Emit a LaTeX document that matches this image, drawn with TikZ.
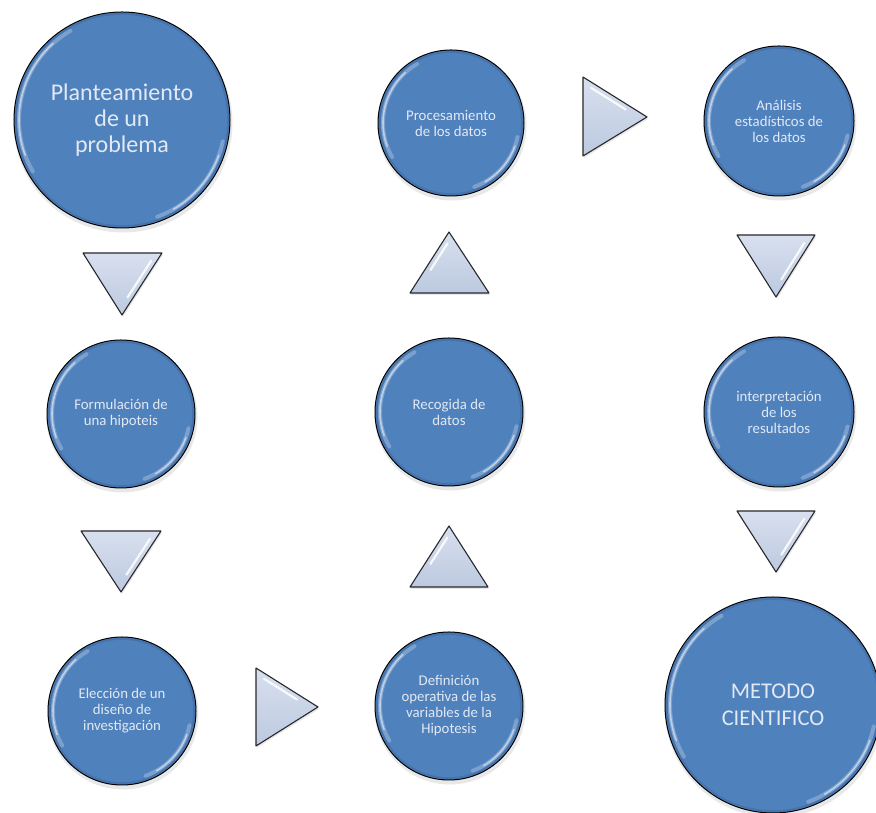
\documentclass[tikz,border=0pt]{standalone}
\usepackage{fontspec}
\setmainfont{Carlito}
\usetikzlibrary{calc}
\definecolor{bubfill}{RGB}{79,129,189}
\definecolor{bubrim}{RGB}{60,100,150}
\definecolor{bubtxt}{RGB}{226,233,244}
\definecolor{tritop}{RGB}{216,224,239}
\definecolor{tribot}{RGB}{188,201,223}
\definecolor{triline}{RGB}{40,40,45}
\tikzset{
  bubble/.style={circle, inner sep=0pt, fill=bubfill, draw=black, line width=1pt,
                 text=bubtxt, align=center},
  smalltxt/.style={font=\fontsize{14.8}{16}\selectfont},
  bigtxt/.style={font=\fontsize{24}{26}\selectfont},
  endtxt/.style={font=\fontsize{22.5}{27}\selectfont},
  shadowfill/.style={black, opacity=.09},
  gloss/.style={white, line cap=round},
  tri/.style={draw=triline, line width=1.1pt, line join=round,
              top color=tritop, bottom color=tribot},
  streak/.style={white, opacity=.85, line width=2.2pt, line cap=round},
}
% name, x, y, r, style, text
\newcommand\mkbub[6]{%
  \fill[shadowfill] (#2+1,#3-3) circle ({(#4+1.5)*1pt});
  \node[bubble, minimum size={2*#4*1pt}, #5] (#1) at (#2,#3) {#6};
  \draw[bubrim, opacity=.45, line width=2pt] (#1.center) circle ({(#4-1.8)*1pt});
  \draw[gloss, opacity=.25, line width=4pt]
    ([shift={(210:{(#4-5)*1pt})}]#1.center) arc[start angle=210, end angle=120, radius={(#4-5)*1pt}];
  \draw[gloss, opacity=.5, line width=1.6pt]
    ([shift={(200:{(#4-5)*1pt})}]#1.center) arc[start angle=200, end angle=132, radius={(#4-5)*1pt}];
  \draw[gloss, opacity=.25, line width=4pt]
    ([shift={(-70:{(#4-5)*1pt})}]#1.center) arc[start angle=-70, end angle=-12, radius={(#4-5)*1pt}];
  \draw[gloss, opacity=.5, line width=1.6pt]
    ([shift={(-60:{(#4-5)*1pt})}]#1.center) arc[start angle=-60, end angle=-20, radius={(#4-5)*1pt}];
}
% name, A, B, C  (streak along A->B)
\newcommand\mktri[6]{%
  \coordinate (#1a) at (#2);
  \coordinate (#1b) at (#3);
  \coordinate (#1c) at (#4);
  \coordinate (#1g) at (barycentric cs:#1a=1,#1b=1,#1c=1);
  \fill[shadowfill] ([shift={(1,-2)}]#1a) -- ([shift={(1,-2)}]#1b) -- ([shift={(1,-2)}]#1c) -- cycle;
  \path[tri] (#1a) -- (#1b) -- (#1c) -- cycle;
  \draw[streak, shorten <=#5, shorten >=#6] ($(#1g)!.78!(#1a)$) -- ($(#1g)!.78!(#1b)$);
}
\begin{document}
\begin{tikzpicture}[x=1pt, y=1pt]
  \useasboundingbox (0,0) rectangle (876,813);
  \fill[white] (0,0) rectangle (876,813);
  \clip (0,0) rectangle (876,813);

  \mkbub{plan}{122}{693}{108}{bigtxt}{Planteamiento\\de un\\problema}
  \mkbub{form}{121}{399}{74}{smalltxt}{Formulación de\\una hipoteis}
  \mkbub{elec}{122}{102}{74}{smalltxt}{Elección de un\\diseño de\\investigación}
  \mkbub{defi}{449}{107}{74}{smalltxt}{Definición\\operativa de las\\variables de la\\Hipotesis}
  \mkbub{reco}{449}{401}{74}{smalltxt}{Recogida de\\datos}
  \mkbub{proc}{451}{690}{73}{smalltxt}{Procesamiento\\de los datos}
  \mkbub{anal}{779}{692}{75}{smalltxt}{Análisis\\estadísticos de\\los datos}
  \mkbub{inte}{779}{401}{75}{smalltxt}{interpretación\\de los\\resultados}
  \mkbub{meto}{773}{108}{108}{endtxt}{METODO\\CIENTIFICO}

  \mktri{td1}{162,560}{122,498}{83,560}{4pt}{10pt}
  \mktri{td2}{161,282}{121,221}{81,282}{4pt}{10pt}
  \mktri{tr1}{256,145}{318,106}{256,67}{4pt}{14pt}
  \mktri{tu1}{449,287}{410,226}{488,226}{3pt}{22pt}
  \mktri{tu2}{449,581}{410,520}{489,520}{3pt}{22pt}
  \mktri{tr2}{583,736}{647,696}{583,657}{4pt}{14pt}
  \mktri{td3}{815,578}{776,516}{737,578}{4pt}{10pt}
  \mktri{td4}{815,302}{776,241}{737,302}{4pt}{10pt}
\end{tikzpicture}
\end{document}
